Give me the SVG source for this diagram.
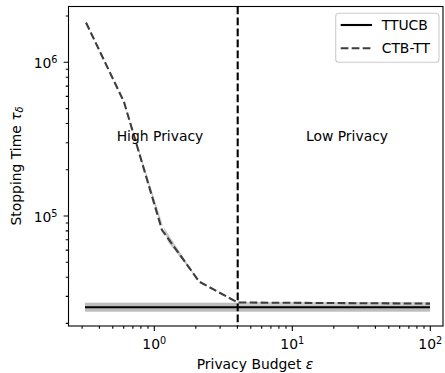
<svg xmlns="http://www.w3.org/2000/svg" width="445" height="373" viewBox="0 0 445 373">
  <style>
    text { font-family: "DejaVu Sans", "Liberation Sans", sans-serif; font-size: 13.9px; fill: #000; }
    .tick { stroke: #000; stroke-width: 1.1; }
    .spine { fill: none; stroke: #000; stroke-width: 1.1; }
    .sup { font-size: 9.7px; }
    .it { font-style: italic; }
  </style>

  <rect x="0" y="0" width="445" height="373" fill="#fff"/>

  <!-- confidence bands -->
  <g id="bands">
    <rect x="85" y="302.7" width="345" height="9" fill="#bdbdbd"/>
    <polygon points="124,102 159,220 199.3,281.7 168,242" fill="#bdbdbd" opacity="0.85"/>
    <rect x="237.7" y="302" width="192.3" height="3.5" fill="#cfcfcf"/>
  </g>

  <!-- data series -->
  <g id="series">
    <line id="ttucb" x1="85" y1="307.3" x2="430" y2="307.3" stroke="#000" stroke-width="2.1"/>
    <polyline id="ctb-tt" points="86,22.5 124,102 162,230 199.3,281.7 237.7,302.5 430,303.6"
              fill="none" stroke="#3d3d3d" stroke-width="2.1" stroke-dasharray="7.7,3.3"/>
  </g>

  <!-- threshold between privacy regimes at epsilon = 4 -->
  <g id="threshold">
    <line x1="237.7" y1="6.5" x2="237.7" y2="326" stroke="#000" stroke-width="2.1" stroke-dasharray="7.7,3.3"/>
  </g>

  <g id="region-labels">
    <text x="160" y="141" text-anchor="middle">High Privacy</text>
    <text x="347" y="141" text-anchor="middle">Low Privacy</text>
  </g>

  <!-- axes frame -->
  <rect class="spine" x="68.5" y="6.5" width="374.5" height="319.5"/>

  <!-- x ticks (log scale, 138 px per decade) -->
  <g id="x-ticks">
    <path class="tick" d="M154.3,326v4.9M292.3,326v4.9M430.3,326v4.9"/>
    <path class="tick" d="M82.1,326v2.8M99.4,326v2.8M112.8,326v2.8M123.7,326v2.8M132.9,326v2.8M140.9,326v2.8M148,326v2.8
      M195.8,326v2.8M220.1,326v2.8M237.4,326v2.8M250.8,326v2.8M261.7,326v2.8M270.9,326v2.8M278.9,326v2.8M286,326v2.8
      M333.8,326v2.8M358.1,326v2.8M375.4,326v2.8M388.8,326v2.8M399.7,326v2.8M408.9,326v2.8M416.9,326v2.8M424,326v2.8"/>
    <text x="154.3" y="349" text-anchor="middle">10<tspan class="sup" dy="-5.5">0</tspan></text>
    <text x="292.3" y="349" text-anchor="middle">10<tspan class="sup" dy="-5.5">1</tspan></text>
    <text x="430.3" y="349" text-anchor="middle">10<tspan class="sup" dy="-5.5">2</tspan></text>
  </g>

  <!-- y ticks (log scale, 153.7 px per decade) -->
  <g id="y-ticks">
    <path class="tick" d="M68.5,62.3h-4.9M68.5,216h-4.9"/>
    <path class="tick" d="M68.5,323.4h-2.8M68.5,296.4h-2.8M68.5,277.2h-2.8M68.5,262.3h-2.8M68.5,250.1h-2.8M68.5,239.8h-2.8M68.5,230.9h-2.8M68.5,223h-2.8
      M68.5,169.7h-2.8M68.5,142.7h-2.8M68.5,123.5h-2.8M68.5,108.6h-2.8M68.5,96.4h-2.8M68.5,86.1h-2.8M68.5,77.2h-2.8M68.5,69.3h-2.8
      M68.5,16h-2.8"/>
    <text x="57.5" y="68.3" text-anchor="end">10<tspan class="sup" dy="-5.5">6</tspan></text>
    <text x="57.5" y="222" text-anchor="end">10<tspan class="sup" dy="-5.5">5</tspan></text>
  </g>

  <!-- axis titles -->
  <g id="axis-labels">
    <text x="255" y="368.5" text-anchor="middle">Privacy Budget <tspan class="it">ε</tspan></text>
    <text transform="translate(20.5,166) rotate(-90)" text-anchor="middle">Stopping Time <tspan class="it">τ</tspan><tspan class="it" font-size="9.7px" dy="2.5">δ</tspan></text>
  </g>

  <!-- legend -->
  <g id="legend">
    <rect x="335.7" y="13.3" width="103.3" height="49" rx="3" ry="3" fill="#fff" fill-opacity="0.8" stroke="#cccccc" stroke-width="1.1"/>
    <line x1="340.7" y1="25" x2="372" y2="25" stroke="#000" stroke-width="2.1"/>
    <text x="381.7" y="30">TTUCB</text>
    <line x1="340.7" y1="48.3" x2="372" y2="48.3" stroke="#3d3d3d" stroke-width="2.1" stroke-dasharray="7.7,3.3"/>
    <text x="381.7" y="53.3">CTB-TT</text>
  </g>
</svg>
